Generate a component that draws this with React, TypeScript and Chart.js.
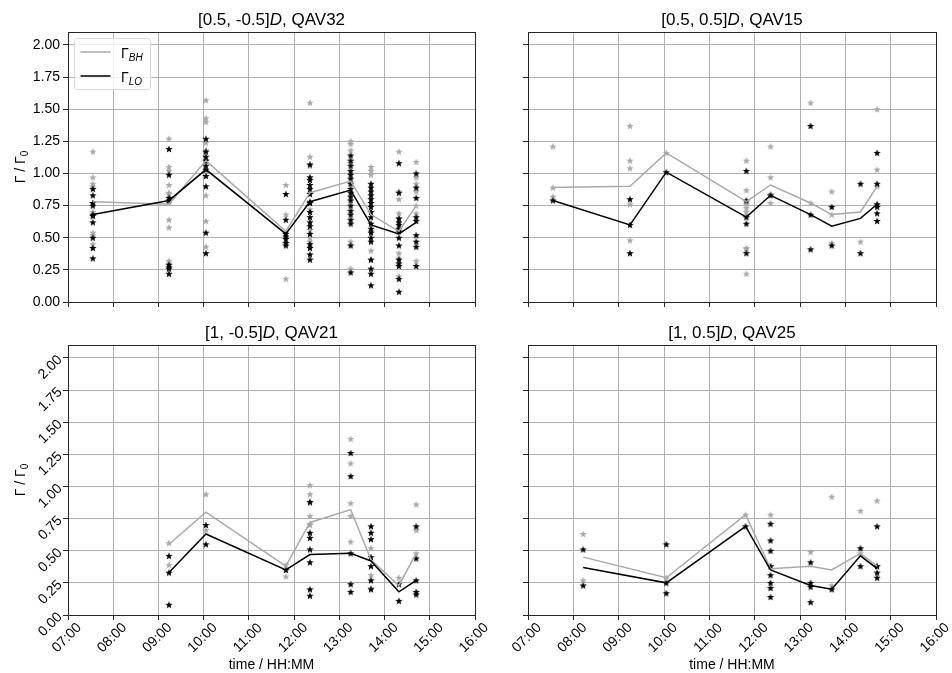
import React, { useEffect, useRef } from "react";
import { Chart, registerables } from "chart.js";

Chart.register(...registerables);

const FONT = '"Liberation Sans", Arial, Helvetica, sans-serif';
const W = 952;
const H = 673;

// ---------- axes ----------
const X_MIN_HOUR = 7;
const X_MAX_HOUR = 16;
const Y_MIN = 0;
const Y_MAX = 2.1;
const Y_STEP = 0.25;
const X_TITLE = "time / HH:MM";

// ---------- panel A: [0.5, -0.5]D, QAV32 ----------
const timesA = ["07:33", "09:14", "10:03", "11:49", "12:21", "13:15", "13:42", "14:19", "14:42"];
const lineBH_A = [0.78, 0.76, 1.1, 0.55, 0.85, 0.94, 0.68, 0.55, 0.75];
const lineLO_A = [0.68, 0.79, 1.03, 0.53, 0.78, 0.87, 0.6, 0.53, 0.62];
const starsBH_A = [
  [1.17, 0.97, 0.92, 0.9, 0.77, 0.7, 0.54, 0.52, 0.45],
  [1.27, 1.05, 1.02, 0.91, 0.85, 0.84, 0.77, 0.64, 0.58, 0.32, 0.3],
  [1.57, 1.43, 1.4, 1.24, 1.18, 1.1, 0.83, 0.63, 0.43],
  [0.91, 0.68, 0.54, 0.46, 0.18],
  [1.55, 1.13, 1.06, 0.85, 0.72, 0.56, 0.5, 0.47, 0.43],
  [1.25, 1.23, 1.18, 1.08, 0.93, 0.47, 0.26],
  [1.05, 1.02, 0.99, 0.7, 0.55, 0.4, 0.33],
  [1.17, 0.86, 0.8, 0.69, 0.65, 0.38, 0.34, 0.2],
  [1.09, 0.97, 0.92, 0.86, 0.75, 0.69, 0.32],
];
const starsLO_A = [
  [0.88, 0.83, 0.77, 0.75, 0.68, 0.67, 0.62, 0.5, 0.42, 0.34],
  [1.19, 0.99, 0.81, 0.79, 0.29, 0.27, 0.26, 0.22],
  [1.27, 1.17, 1.13, 1.1, 1.06, 1.03, 0.98, 0.9, 0.54, 0.38],
  [0.84, 0.64, 0.53, 0.51, 0.49, 0.46, 0.44],
  [1.07, 0.97, 0.95, 0.91, 0.88, 0.84, 0.78, 0.77, 0.7, 0.66, 0.62, 0.59, 0.53, 0.45, 0.42, 0.37, 0.33],
  [1.14, 1.1, 1.06, 1.02, 0.99, 0.96, 0.92, 0.88, 0.85, 0.82, 0.79, 0.75, 0.71, 0.68, 0.64, 0.61, 0.44, 0.23],
  [0.92, 0.89, 0.86, 0.83, 0.8, 0.77, 0.74, 0.7, 0.66, 0.61, 0.57, 0.54, 0.5, 0.47, 0.33, 0.26, 0.22, 0.13],
  [1.08, 0.85, 0.65, 0.62, 0.6, 0.57, 0.55, 0.5, 0.44, 0.33, 0.3, 0.28, 0.18, 0.08],
  [1.0, 0.89, 0.81, 0.66, 0.63, 0.52, 0.47, 0.43, 0.28],
];

// ---------- panel B: [0.5, 0.5]D, QAV15 ----------
const timesB = ["07:33", "09:15", "10:03", "11:49", "12:21", "13:14", "13:42", "14:20", "14:42"];
const lineBH_B = [0.89, 0.9, 1.16, 0.78, 0.91, 0.77, 0.68, 0.7, 0.9];
const lineLO_B = [0.79, 0.6, 1.01, 0.66, 0.83, 0.68, 0.59, 0.65, 0.76];
const starsBH_B = [
  [1.21, 0.89, 0.82],
  [1.37, 1.1, 1.04, 0.76, 0.48],
  [1.16],
  [1.1, 0.87, 0.78, 0.76, 0.73, 0.7, 0.42, 0.41, 0.22],
  [1.21, 0.97, 0.84, 0.77],
  [1.55, 0.77],
  [0.86, 0.68, 0.46],
  [0.47],
  [1.5, 1.03, 0.9, 0.76],
];
const starsLO_B = [
  [0.79],
  [0.8, 0.6, 0.38],
  [1.01],
  [1.02, 0.79, 0.66, 0.61, 0.38],
  [0.83],
  [1.37, 0.68, 0.41],
  [0.74, 0.44],
  [0.92, 0.38],
  [1.16, 0.92, 0.76, 0.74, 0.69, 0.63],
];

// ---------- panel C: [1, -0.5]D, QAV21 ----------
const timesC = ["09:14", "10:03", "11:49", "12:21", "13:15", "13:42", "14:19", "14:42"];
const lineBH_C = [0.55, 0.8, 0.38, 0.72, 0.82, 0.43, 0.23, 0.48];
const lineLO_C = [0.33, 0.63, 0.35, 0.47, 0.48, 0.42, 0.18, 0.27];
const starsBH_C = [
  [0.56, 0.39],
  [0.94, 0.66],
  [0.39, 0.3],
  [1.01, 0.94, 0.87, 0.77, 0.71, 0.7],
  [1.37, 1.18, 0.87, 0.77, 0.57],
  [0.52, 0.31, 0.21],
  [0.29],
  [0.86, 0.66, 0.48],
];
const starsLO_C = [
  [0.46, 0.33, 0.08],
  [0.7, 0.55],
  [0.35],
  [0.88, 0.64, 0.6, 0.51, 0.41, 0.2, 0.15],
  [1.26, 1.08, 0.48, 0.24, 0.18],
  [0.69, 0.64, 0.59, 0.45, 0.38, 0.27, 0.2],
  [0.24, 0.11],
  [0.69, 0.44, 0.27, 0.18, 0.16],
];

// ---------- panel D: [1, 0.5]D, QAV25 ----------
const timesD = ["08:13", "10:03", "11:48", "12:21", "13:14", "13:42", "14:20", "14:42"];
const lineBH_D = [0.45, 0.29, 0.78, 0.36, 0.38, 0.35, 0.48, 0.38];
const lineLO_D = [0.37, 0.25, 0.69, 0.35, 0.23, 0.2, 0.46, 0.36];
const starsBH_D = [
  [0.63, 0.27],
  [0.29],
  [0.78],
  [0.78, 0.38],
  [0.49],
  [0.92, 0.23],
  [0.81, 0.48],
  [0.89, 0.38],
];
const starsLO_D = [
  [0.51, 0.23],
  [0.55, 0.25, 0.17],
  [0.69],
  [0.71, 0.58, 0.5, 0.38, 0.31, 0.25, 0.21, 0.14],
  [0.41, 0.25, 0.22, 0.1],
  [0.2],
  [0.52, 0.38],
  [0.69, 0.38, 0.33, 0.29],
];

// ---------- styles ----------
const GRAY = "#a9a9a9";
const BLACK = "#000000";
const GRID = "#b0b0b0";
const SPINE = "#262626";

type Part = { text: string; italic?: boolean; size: number; dy?: number };

type Panel = {
  title: [string, string, string];
  times: string[];
  lineBH: number[];
  lineLO: number[];
  starsBH: number[][];
  starsLO: number[][];
  area: { left: number; top: number; right: number; bottom: number };
  yLabels: boolean;
  yRot: number;
  xLabels: boolean;
  legend: boolean;
};

const PANELS: Panel[] = [
  {
    title: ["[0.5, -0.5]", "D", ", QAV32"], times: timesA, lineBH: lineBH_A, lineLO: lineLO_A,
    starsBH: starsBH_A, starsLO: starsLO_A,
    area: { left: 68, top: 32, right: 475, bottom: 302 }, yLabels: true, yRot: 0, xLabels: false, legend: true,
  },
  {
    title: ["[0.5, 0.5]", "D", ", QAV15"], times: timesB, lineBH: lineBH_B, lineLO: lineLO_B,
    starsBH: starsBH_B, starsLO: starsLO_B,
    area: { left: 528, top: 32, right: 936, bottom: 302 }, yLabels: false, yRot: 0, xLabels: false, legend: false,
  },
  {
    title: ["[1, -0.5]", "D", ", QAV21"], times: timesC, lineBH: lineBH_C, lineLO: lineLO_C,
    starsBH: starsBH_C, starsLO: starsLO_C,
    area: { left: 68, top: 345, right: 475, bottom: 615 }, yLabels: true, yRot: 45, xLabels: true, legend: false,
  },
  {
    title: ["[1, 0.5]", "D", ", QAV25"], times: timesD, lineBH: lineBH_D, lineLO: lineLO_D,
    starsBH: starsBH_D, starsLO: starsLO_D,
    area: { left: 528, top: 345, right: 936, bottom: 615 }, yLabels: false, yRot: 0, xLabels: true, legend: false,
  },
];

function toHours(t: string) {
  const [h, m] = t.split(":").map(Number);
  return h + m / 60;
}

function fmtHour(v: number) {
  return String(Math.round(v)).padStart(2, "0") + ":00";
}

function makeStar(color: string, r: number) {
  const s = Math.ceil(r * 2 + 2);
  const c = document.createElement("canvas");
  c.width = s;
  c.height = s;
  const g = c.getContext("2d")!;
  g.fillStyle = color;
  g.beginPath();
  for (let i = 0; i < 10; i++) {
    const rr = i % 2 === 0 ? r : r * 0.42;
    const a = -Math.PI / 2 + (i * Math.PI) / 5;
    const px = s / 2 + rr * Math.cos(a);
    const py = s / 2 + rr * Math.sin(a) + 0.3;
    if (i === 0) g.moveTo(px, py);
    else g.lineTo(px, py);
  }
  g.closePath();
  g.fill();
  return c;
}

function font(p: Part) {
  return `${p.italic ? "italic " : ""}${p.size}px ${FONT}`;
}

function drawParts(ctx: CanvasRenderingContext2D, parts: Part[], x: number, y: number, align: "left" | "center") {
  ctx.textAlign = "left";
  ctx.textBaseline = "alphabetic";
  let total = 0;
  for (const p of parts) {
    ctx.font = font(p);
    total += ctx.measureText(p.text).width;
  }
  let cx = align === "center" ? x - total / 2 : x;
  for (const p of parts) {
    ctx.font = font(p);
    ctx.fillText(p.text, cx, y + (p.dy || 0));
    cx += ctx.measureText(p.text).width;
  }
}

function makeDecor(panel: Panel) {
  return {
    id: "decor",
    afterDraw(chart: any) {
      const ctx: CanvasRenderingContext2D = chart.ctx;
      const { left, top, right, bottom } = chart.chartArea;
      ctx.save();
      // frame
      ctx.strokeStyle = SPINE;
      ctx.lineWidth = 1;
      ctx.strokeRect(Math.round(left) + 0.5, Math.round(top) + 0.5, Math.round(right - left), Math.round(bottom - top));
      ctx.fillStyle = "#000";
      // title
      drawParts(
        ctx,
        [
          { text: panel.title[0], size: 17 },
          { text: panel.title[1], size: 17, italic: true },
          { text: panel.title[2], size: 17 },
        ],
        (left + right) / 2,
        top - 7,
        "center"
      );
      // y title
      if (panel.yLabels) {
        ctx.save();
        ctx.translate(25, (top + bottom) / 2);
        ctx.rotate(-Math.PI / 2);
        drawParts(ctx, [
          { text: "Γ / Γ", size: 14 },
          { text: "0", size: 10, dy: 3 },
        ], 0, 0, "center");
        ctx.restore();
      }
      // x tick labels + title
      if (panel.xLabels) {
        const xs = chart.scales.x;
        ctx.font = `14px ${FONT}`;
        ctx.textAlign = "center";
        ctx.textBaseline = "middle";
        for (const t of xs.ticks) {
          const px = xs.getPixelForValue(t.value);
          ctx.save();
          ctx.translate(px - 1, bottom + 23);
          ctx.rotate(-Math.PI / 4);
          ctx.fillText(fmtHour(t.value), 0, 0);
          ctx.restore();
        }
        drawParts(ctx, [{ text: X_TITLE, size: 14 }], (left + right) / 2, 668.5, "center");
      }
      // legend
      if (panel.legend) {
        const x0 = left + 6.5;
        const y0 = top + 6.5;
        const w = 76;
        const h = 51;
        const r = 3;
        ctx.beginPath();
        ctx.moveTo(x0 + r, y0);
        ctx.arcTo(x0 + w, y0, x0 + w, y0 + h, r);
        ctx.arcTo(x0 + w, y0 + h, x0, y0 + h, r);
        ctx.arcTo(x0, y0 + h, x0, y0, r);
        ctx.arcTo(x0, y0, x0 + w, y0, r);
        ctx.closePath();
        ctx.fillStyle = "rgba(255,255,255,0.8)";
        ctx.fill();
        ctx.strokeStyle = "#d9d9d9";
        ctx.lineWidth = 1;
        ctx.stroke();
        const entries = [
          { color: GRAY, sub: "BH", y: y0 + 13.5 },
          { color: BLACK, sub: "LO", y: y0 + 37.5 },
        ];
        for (const e of entries) {
          ctx.beginPath();
          ctx.strokeStyle = e.color;
          ctx.lineWidth = 1.5;
          ctx.moveTo(x0 + 6, e.y);
          ctx.lineTo(x0 + 36, e.y);
          ctx.stroke();
          ctx.fillStyle = "#000";
          drawParts(ctx, [
            { text: "Γ", size: 14 },
            { text: e.sub, size: 10, italic: true, dy: 3 },
          ], x0 + 46.5, e.y + 5.5, "left");
        }
      }
      ctx.restore();
    },
  };
}

function PanelChart({ panel }: { panel: Panel }) {
  const ref = useRef<HTMLCanvasElement>(null);
  useEffect(() => {
    const canvas = ref.current!;
    const starGray = makeStar(GRAY, 3.9);
    const starBlack = makeStar(BLACK, 3.9);
    const pts = (vals: number[][]) =>
      panel.times.flatMap((t, i) => vals[i].map((v) => ({ x: toHours(t), y: v })));
    const line = (vals: number[]) => panel.times.map((t, i) => ({ x: toHours(t), y: vals[i] }));
    const a = panel.area;
    const AXX = 10;
    const AXY = panel.yLabels ? 62 : 10;
    const chart = new Chart(canvas, {
      type: "scatter",
      data: {
        datasets: [
          { data: line(panel.lineLO), showLine: true, borderColor: BLACK, borderWidth: 1.5, pointRadius: 0, order: 1 } as any,
          { data: line(panel.lineBH), showLine: true, borderColor: GRAY, borderWidth: 1.5, pointRadius: 0, order: 2 } as any,
          { data: pts(panel.starsLO), pointStyle: starBlack, pointRadius: 3, order: 3 } as any,
          { data: pts(panel.starsBH), pointStyle: starGray, pointRadius: 3, order: 4 } as any,
        ],
      },
      options: {
        responsive: false,
        animation: false,
        events: [],
        layout: {
          padding: { left: a.left - AXY, top: a.top, right: W - a.right, bottom: H - a.bottom - AXX },
        },
        plugins: { legend: { display: false }, tooltip: { enabled: false }, title: { display: false } },
        scales: {
          x: {
            type: "linear",
            min: X_MIN_HOUR,
            max: X_MAX_HOUR,
            afterFit: (s: any) => { s.height = AXX; },
            ticks: { display: false, stepSize: 1, includeBounds: false, autoSkip: false },
            grid: { color: GRID, lineWidth: 1, tickLength: 5, tickColor: SPINE, tickWidth: 1 },
            border: { display: false },
          },
          y: {
            type: "linear",
            min: Y_MIN,
            max: Y_MAX,
            afterFit: (s: any) => { s.width = AXY; },
            ticks: {
              display: panel.yLabels,
              stepSize: Y_STEP,
              includeBounds: false,
              autoSkip: false,
              padding: 3,
              minRotation: panel.yRot,
              maxRotation: panel.yRot,
              color: "#000",
              font: { family: FONT, size: 14 },
              callback: (v: any) => Number(v).toFixed(2),
            },
            grid: { color: GRID, lineWidth: 1, tickLength: 5, tickColor: SPINE, tickWidth: 1 },
            border: { display: false },
          },
        },
      } as any,
      plugins: [makeDecor(panel)],
    });
    return () => chart.destroy();
  }, [panel]);
  return (
    <canvas
      ref={ref}
      width={W}
      height={H}
      style={{ position: "absolute", left: 0, top: 0, width: W, height: H }}
    />
  );
}

export default function App() {
  return (
    <div style={{ position: "absolute", left: 0, top: 0, width: W, height: H, background: "#fff" }}>
      {PANELS.map((p, i) => (
        <PanelChart key={i} panel={p} />
      ))}
    </div>
  );
}
